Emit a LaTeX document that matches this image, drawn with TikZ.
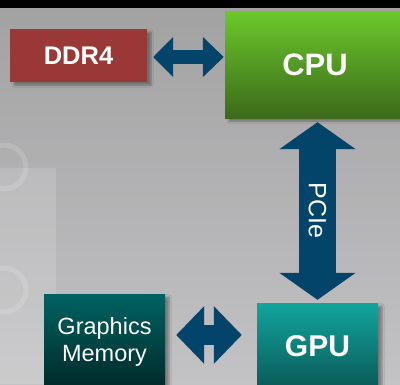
\documentclass[tikz,border=0pt]{standalone}
\usepackage{fontspec}
\setmainfont{Liberation Sans}
\usetikzlibrary{positioning, arrows.meta, shadows.blur}
\definecolor{BgTop}{HTML}{A2A2A3}
\definecolor{BgBottom}{HTML}{C3C2C4}
\definecolor{DdrRed}{HTML}{993836}
\definecolor{CpuTop}{HTML}{6BC82C}
\definecolor{CpuBottom}{HTML}{3C6A1A}
\definecolor{GpuTop}{HTML}{12A59E}
\definecolor{GpuBottom}{HTML}{0A5856}
\definecolor{MemTop}{HTML}{006262}
\definecolor{MemBottom}{HTML}{002828}
\definecolor{LinkBlue}{HTML}{02446A}

\tikzset{
  chip/.style={minimum width=121pt, inner sep=0pt, text=white, align=center,
    blur shadow={shadow xshift=4pt, shadow yshift=-3pt, shadow blur steps=6, shadow opacity=35}},
  biarrow/.style={draw=LinkBlue, line width=#1},
}

\begin{document}
\begin{tikzpicture}[x=1pt, y=-1pt]
      \useasboundingbox (0,0) rectangle (400,384);

      % --- Background ---
      \fill[black] (0,0) rectangle (400,8);
      \shade[top color=BgTop, bottom color=BgBottom] (0,8) rectangle (400,384);
      \fill[white, opacity=0.15] (0,168) rectangle (56,384);
      \draw[white, opacity=0.15, line width=5pt] (4,167) circle (22);
      \draw[white, opacity=0.15, line width=5pt] (4,290) circle (22);

      % --- Boxes ---
      \node[chip, fill=DdrRed, minimum width=137pt, minimum height=53pt,
            font=\bfseries\fontsize{25.5}{30}\selectfont] (ddr) at (78.5,55.5) {DDR4};
      \node[chip, top color=CpuTop, bottom color=CpuBottom, minimum width=180pt,
            minimum height=107pt, font=\bfseries\fontsize{31}{36}\selectfont] (cpu) at (315,64.5) {CPU};
      \node[chip, top color=GpuTop, bottom color=GpuBottom, minimum height=87pt,
            font=\bfseries\fontsize{30}{36}\selectfont] (gpu) at (317.5,346.5) {GPU};
      \node[chip, top color=MemTop, bottom color=MemBottom, minimum height=96pt,
            font=\fontsize{23.5}{27}\selectfont] (mem) at (104.5,342) {Graphics\\Memory};

      % --- Links ---
      \draw[biarrow=14pt, {Triangle[length=20pt, width=39pt]}-{Triangle[length=21pt, width=39pt]},
            shorten <=6pt, shorten >=1pt]
            ([yshift=-1.5pt]ddr.east) -- ([yshift=-1.5pt]ddr.east -| cpu.west);
      \draw[biarrow=37pt, {Triangle[length=27pt, width=75pt]}-{Triangle[length=27pt, width=75pt]},
            shorten <=4pt, shorten >=3pt]
            (gpu.north |- cpu.south) -- (gpu.north)
            node[midway, rotate=-90, text=white, font=\fontsize{25}{30}\selectfont] (pcie) {PCIe};
      \draw[biarrow=20pt, {Triangle[length=28pt, width=56pt]}-{Triangle[length=28pt, width=56pt]},
            shorten <=11pt, shorten >=15pt]
            ([yshift=7pt]mem.east) -- ([yshift=7pt]mem.east -| gpu.west);
  \end{tikzpicture}
\end{document}
